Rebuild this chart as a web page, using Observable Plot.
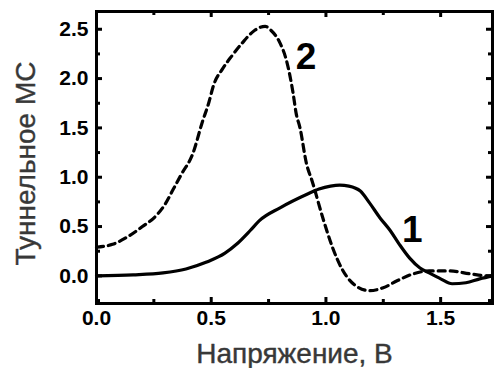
<!DOCTYPE html>
<html>
<head>
<meta charset="utf-8">
<script src="https://cdn.jsdelivr.net/npm/d3@7"></script>
<script src="https://cdn.jsdelivr.net/npm/@observablehq/plot@0.6"></script>
<style>
  html, body { margin: 0; padding: 0; background: #fff; }
  #chart svg { display: block; }
</style>
</head>
<body>
<div id="chart"></div>
<script>
// Curve 1 (solid)
const x1 = [0, 0.16, 0.29, 0.39, 0.48, 0.56, 0.61, 0.67, 0.71, 0.8, 0.92, 0.97, 1.02, 1.06, 1.10, 1.15, 1.19, 1.235, 1.28, 1.32, 1.365, 1.41, 1.45, 1.5, 1.55, 1.61, 1.67, 1.73];
const y1 = [0, 0.01, 0.03, 0.07, 0.14, 0.23, 0.32, 0.46, 0.56, 0.69, 0.83, 0.88, 0.91, 0.92, 0.91, 0.86, 0.74, 0.59, 0.46, 0.32, 0.18, 0.08, 0.03, -0.03, -0.08, -0.07, -0.03, 0.0];
// Curve 2 (dashed)
const x2 = [0, 0.07, 0.145, 0.2, 0.26, 0.3, 0.335, 0.37, 0.42, 0.46, 0.49, 0.51, 0.55, 0.59, 0.635, 0.69, 0.735, 0.76, 0.8, 0.826, 0.843, 0.857, 0.87, 0.887, 0.915, 0.94, 0.99, 1.03, 1.07, 1.13, 1.19, 1.25, 1.31, 1.38, 1.45, 1.54, 1.63, 1.71, 1.73];
const y2 = [0.29, 0.32, 0.41, 0.5, 0.61, 0.73, 0.88, 1.03, 1.24, 1.55, 1.76, 1.93, 2.1, 2.23, 2.36, 2.49, 2.53, 2.49, 2.36, 2.2, 2.03, 1.85, 1.65, 1.5, 1.14, 0.96, 0.56, 0.28, 0.07, -0.10, -0.15, -0.12, -0.05, 0.02, 0.05, 0.05, 0.02, 0.0, 0.0];

const xMajor = [0, 0.5, 1.0, 1.5];
const xMinor = [0.25, 0.75, 1.25];
const yMajor = [0, 0.5, 1.0, 1.5, 2.0, 2.5];
const yMinor = [-0.25, 0.25, 0.75, 1.25, 1.75, 2.25];

const curveLabels = ["1", "2"];
const curveLabelX = [1.376, 0.913];
const curveLabelY = [0.46, 2.22];

const xTitle = "Напряжение, В";
const yTitle = "Туннельное МС";

const curve1 = x1.map((x, i) => ({x, y: y1[i]}));
const curve2 = x2.map((x, i) => ({x, y: y2[i]}));
const labels = curveLabels.map((t, i) => ({t, x: curveLabelX[i], y: curveLabelY[i]}));

const W = 494, H = 368, mL = 96, mT = 11, mR = 2, mB = 65;
const pw = W - mL - mR, ph = H - mT - mB;
const font = "'Liberation Sans', Arial, sans-serif";

const chart = Plot.plot({
  width: W, height: H,
  marginLeft: mL, marginTop: mT, marginRight: mR, marginBottom: mB,
  style: {fontFamily: font, background: "#fff", color: "#000"},
  x: {domain: [0, 1.726]},
  y: {domain: [-0.28, 2.68]},
  marks: [
    Plot.line(curve2, {x: "x", y: "y", stroke: "#000", strokeWidth: 3.2, strokeDasharray: "7,5", curve: "monotone-x"}),
    Plot.line(curve1, {x: "x", y: "y", stroke: "#000", strokeWidth: 3.2, curve: "monotone-x"}),
    // inward ticks
    Plot.tickX(xMajor, {x: d => d, insetTop: ph - 6, strokeWidth: 3}),
    Plot.tickX(xMajor, {x: d => d, insetBottom: ph - 6, strokeWidth: 3}),
    Plot.tickX(xMinor, {x: d => d, insetTop: ph - 4, strokeWidth: 3}),
    Plot.tickX(xMinor, {x: d => d, insetBottom: ph - 4, strokeWidth: 3}),
    Plot.tickY(yMajor, {y: d => d, insetRight: pw - 6, strokeWidth: 3}),
    Plot.tickY(yMajor, {y: d => d, insetLeft: pw - 6, strokeWidth: 3}),
    Plot.tickY(yMinor, {y: d => d, insetRight: pw - 4, strokeWidth: 3}),
    Plot.tickY(yMinor, {y: d => d, insetLeft: pw - 4, strokeWidth: 3}),
    Plot.frame({stroke: "#000", strokeWidth: 3}),
    Plot.axisX({ticks: xMajor, tickSize: 0, tickPadding: 7, tickFormat: d => d.toFixed(1), fontSize: 21, fontWeight: "bold", stroke: "#000", strokeWidth: 0.8, label: null}),
    Plot.axisY({ticks: yMajor, tickSize: 0, tickPadding: 8, tickFormat: d => d.toFixed(1), fontSize: 21, fontWeight: "bold", stroke: "#000", strokeWidth: 0.8, label: null}),
    Plot.text(labels, {x: "x", y: "y", text: "t", fontSize: 37, fontWeight: "bold", fill: "#000", lineAnchor: "middle", textAnchor: "middle"}),
    Plot.text([xTitle], {frameAnchor: "bottom", dy: 40, lineAnchor: "top", fontSize: 28, fill: "#383838", stroke: "#383838", strokeWidth: 0.4, text: d => d}),
    Plot.text([yTitle], {frameAnchor: "left", rotate: -90, dx: -70, dy: 6, textAnchor: "middle", lineAnchor: "middle", fontSize: 28, fill: "#383838", stroke: "#383838", strokeWidth: 0.4, text: d => d})
  ]
});
document.getElementById("chart").appendChild(chart);
</script>
</body>
</html>
